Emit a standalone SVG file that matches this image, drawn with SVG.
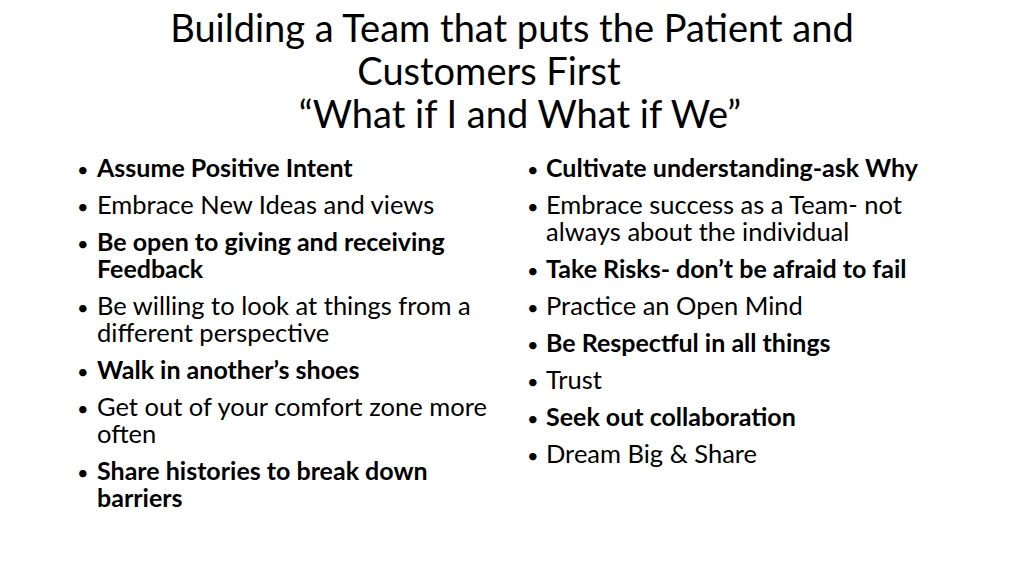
<svg xmlns="http://www.w3.org/2000/svg" width="1024" height="576" viewBox="0 0 1024 576">
<style>
text{font-family:Lato,"Open Sans",sans-serif;fill:#000}
.t{font-size:38px;text-anchor:middle}
.b{font-size:25.5px}
.bb{font-size:25px;font-weight:bold}
.d{font-size:20px}
</style>
<rect width="1024" height="576" fill="#fff"/>
<g id="title">
<text class="t" x="512" y="42">Building a Team that puts the Patient and</text>
<text class="t" x="489" y="85">Customers First</text>
<text class="t" x="520" y="128">“What if I and What if We”</text>
</g>
<g id="left">
<text class="d" x="77" y="177">•</text><text class="bb" x="97" y="177">Assume Positive Intent</text>
<text class="d" x="77" y="214">•</text><text class="b" x="97" y="214">Embrace New Ideas and views</text>
<text class="d" x="77" y="251">•</text><text class="bb" x="97" y="251">Be open to giving and receiving</text>
<text class="bb" x="97" y="278">Feedback</text>
<text class="d" x="77" y="315">•</text><text class="b" x="97" y="315">Be willing to look at things from a</text>
<text class="b" x="97" y="342">different perspective</text>
<text class="d" x="77" y="379">•</text><text class="bb" x="97" y="379">Walk in another’s shoes</text>
<text class="d" x="77" y="416">•</text><text class="b" x="97" y="416">Get out of your comfort zone more</text>
<text class="b" x="97" y="443">often</text>
<text class="d" x="77" y="480">•</text><text class="bb" x="97" y="480">Share histories to break down</text>
<text class="bb" x="97" y="507">barriers</text>
</g>
<g id="right">
<text class="d" x="527" y="177">•</text><text class="bb" x="546" y="177">Cultivate understanding-ask Why</text>
<text class="d" x="527" y="214">•</text><text class="b" x="546" y="214">Embrace success as a Team- not</text>
<text class="b" x="546" y="241">always about the individual</text>
<text class="d" x="527" y="278">•</text><text class="bb" x="546" y="278">Take Risks- don’t be afraid to fail</text>
<text class="d" x="527" y="315">•</text><text class="b" x="546" y="315">Practice an Open Mind</text>
<text class="d" x="527" y="352">•</text><text class="bb" x="546" y="352">Be Respectful in all things</text>
<text class="d" x="527" y="389">•</text><text class="b" x="546" y="389">Trust</text>
<text class="d" x="527" y="426">•</text><text class="bb" x="546" y="426">Seek out collaboration</text>
<text class="d" x="527" y="463">•</text><text class="b" x="546" y="463">Dream Big &amp; Share</text>
</g>
</svg>
